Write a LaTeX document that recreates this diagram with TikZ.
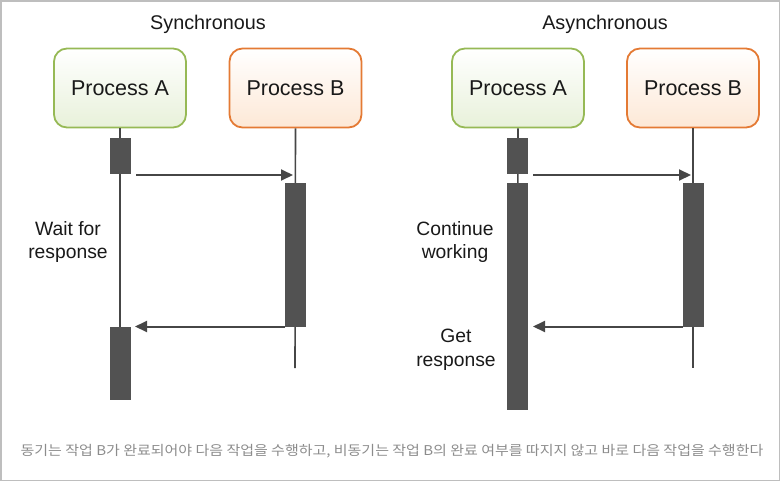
\documentclass[tikz,border=0pt]{standalone}
\usepackage{fontspec}
\setmainfont{Liberation Sans}
\newfontfamily\krfont{Noto Sans CJK KR}
\usetikzlibrary{arrows.meta}
\definecolor{gborder}{RGB}{150,185,85}
\definecolor{gfill}{RGB}{232,241,218}
\definecolor{oborder}{RGB}{228,122,52}
\definecolor{ofill}{RGB}{253,232,214}
\definecolor{barc}{RGB}{82,82,82}
\definecolor{linec}{RGB}{70,70,70}
\definecolor{txt}{RGB}{25,25,25}
\definecolor{capc}{RGB}{140,140,140}
\definecolor{framec}{RGB}{190,190,190}
\tikzset{
  procbox/.style={rounded corners=13pt, line width=1.8pt, minimum width=132pt, minimum height=79pt, inner sep=0pt, font=\fontsize{21.5}{25}\selectfont, text=txt},
  procA/.style={procbox, draw=gborder, top color=white, bottom color=gfill},
  procB/.style={procbox, draw=oborder, top color=white, bottom color=ofill},
  title/.style={font=\fontsize{19.8}{24}\selectfont, text=txt},
  lbl/.style={font=\fontsize{19.3}{23.5}\selectfont, text=txt, align=center},
  lifeline/.style={draw=linec, line width=1.6pt},
  actbar/.style={fill=barc, draw=none, minimum width=21pt, inner sep=0pt, anchor=north},
  msg/.style={draw=linec, line width=2pt, -{Triangle[length=12pt,width=11pt]}}
}
\begin{document}
\begin{tikzpicture}[x=1pt,y=-1pt]
\useasboundingbox (0,0) rectangle (781,482);
\draw[framec, line width=1.5pt] (0.75,0.75) rectangle (779.5,480.5);

% ---------- Synchronous ----------
\node[title] (t1) at (208,24) {Synchronous};
\node[procA] (sa) at (120,88) {Process A};
\node[procB] (sb) at (295.5,88) {Process B};
\coordinate (saend) at (120,400);
\coordinate (sbend) at (295,368);
\draw[lifeline] (sa.south) -- (saend);
\draw[lifeline] (sb.south) -- (sbend);
\node[actbar, minimum height=36pt] (sa1) at (120,138) {};
\node[actbar, minimum height=144pt] (sb1) at (295,183) {};
\node[actbar, minimum height=73pt] (sa2) at (120,327) {};
\coordinate (s1from) at (136,175);
\coordinate (s1to) at (293,175);
\coordinate (s2from) at (285,326.5);
\coordinate (s2to) at (135,326.5);
\draw[msg] (s1from) -- (s1to);
\draw[msg] (s2from) -- (s2to);
\node[lbl] (wait) at (68,242) {Wait for\\response};

% ---------- Asynchronous ----------
\node[title] (t2) at (605,24) {Asynchronous};
\node[procA] (aa) at (518,88) {Process A};
\node[procB] (ab) at (693,88) {Process B};
\coordinate (aaend) at (517,400);
\coordinate (abend) at (693,368);
\draw[lifeline] (aa.south) -- (aaend);
\draw[lifeline] (ab.south) -- (abend);
\node[actbar, minimum height=36pt] (aa1) at (517,138) {};
\node[actbar, minimum height=227pt] (aa2) at (517,183) {};
\node[actbar, minimum height=144pt] (ab1) at (693,183) {};
\coordinate (a1from) at (533,175);
\coordinate (a1to) at (691,175);
\coordinate (a2from) at (683,326.5);
\coordinate (a2to) at (533,326.5);
\draw[msg] (a1from) -- (a1to);
\draw[msg] (a2from) -- (a2to);
\node[lbl] (cont) at (455,242) {Continue\\working};
\node[lbl] (getr) at (456,350) {Get\\response};

% ---------- caption ----------
\node[font=\krfont\fontsize{13.5}{16}\selectfont, text=capc] (cap) at (392,451) {\scalebox{1.11}[1]{동기는 작업 B가 완료되어야 다음 작업을 수행하고, 비동기는 작업 B의 완료 여부를 따지지 않고 바로 다음 작업을 수행한다}};
\end{tikzpicture}
\end{document}
